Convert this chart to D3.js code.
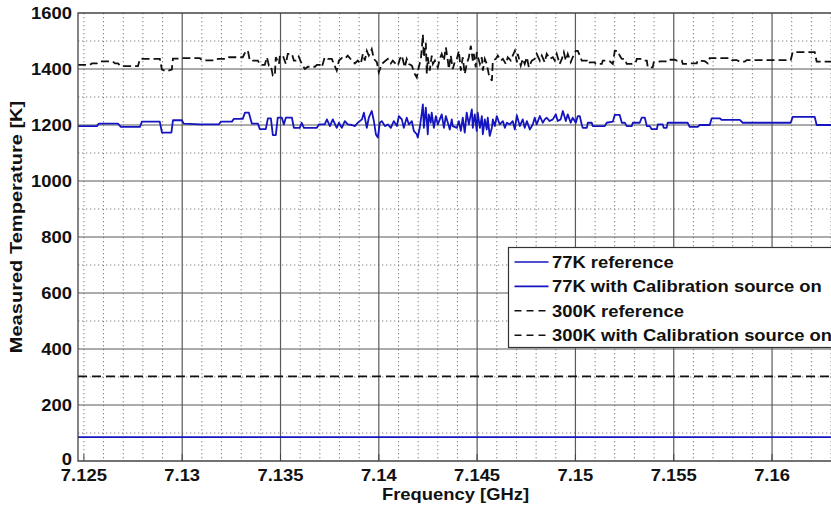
<!DOCTYPE html>
<html>
<head>
<meta charset="utf-8">
<script src="https://cdn.jsdelivr.net/npm/d3@7"></script>
<style>
body { margin: 0; background: #fff; }
text { font-family: "Liberation Sans", Arial, sans-serif; font-weight: bold; fill: #111; }
.wide { transform-box: fill-box; transform: scaleX(1.15); }
</style>
</head>
<body>
<svg id="chart" width="831" height="507"></svg>
<script>
// tick values / labels
const xTickValues = [7.125, 7.13, 7.135, 7.14, 7.145, 7.15, 7.155, 7.16]
const xTickLabels = ["7.125", "7.13", "7.135", "7.14", "7.145", "7.15", "7.155", "7.16"]
const yTickValues = [0, 200, 400, 600, 800, 1000, 1200, 1400, 1600]
const legendLabels = ["77K reference", "77K with Calibration source on", "300K reference", "300K with Calibration source on"]

// reference measurements (flat)
const refFreq = [7.1247, 7.1631]
const ref77 = [85, 85]
const ref300 = [302, 302]

// 77K load with calibration source on [GHz, K]
const cal77 = [
[7.12470,1196],[7.12566,1196],[7.12576,1205],[7.12673,1205],[7.12688,1193],[7.12785,1193],[7.12795,1212],[7.12886,1212],
[7.12897,1173],[7.12945,1173],[7.12953,1217],[7.12998,1217],[7.13008,1205],[7.13090,1202],[7.13186,1202],[7.13197,1212],
[7.13253,1212],[7.13263,1222],[7.13308,1222],[7.13319,1244],[7.13339,1244],[7.13354,1205],[7.13385,1205],[7.13395,1185],
[7.13425,1185],[7.13436,1224],[7.13451,1224],[7.13461,1164],[7.13476,1164],[7.13486,1226],[7.13507,1226],[7.13517,1202],
[7.13527,1226],[7.13558,1226],[7.13568,1190],[7.13598,1190],[7.13608,1208],[7.13619,1190],[7.13685,1190],[7.13695,1202],
[7.13725,1202],[7.13736,1220],[7.13751,1196],[7.13766,1220],[7.13786,1190],[7.13797,1208],[7.13812,1190],[7.13827,1214],
[7.13842,1202],[7.13863,1200],[7.13878,1196],[7.13893,1208],[7.13914,1220],[7.13924,1244],[7.13939,1190],[7.13949,1226],
[7.13964,1250],[7.13975,1214],[7.13985,1167],[7.13995,1155],[7.14005,1208],[7.14015,1214],[7.14031,1196],[7.14046,1202],
[7.14061,1190],[7.14076,1214],[7.14092,1196],[7.14102,1232],[7.14117,1220],[7.14127,1190],[7.14142,1226],[7.14153,1202],
[7.14168,1214],[7.14178,1179],[7.14193,1167],[7.14198,1155],[7.14208,1190],[7.14219,1244],[7.14224,1274],[7.14229,1190],
[7.14239,1262],[7.14249,1167],[7.14254,1238],[7.14264,1208],[7.14269,1244],[7.14280,1190],[7.14290,1232],[7.14300,1202],
[7.14310,1220],[7.14320,1238],[7.14331,1190],[7.14341,1232],[7.14351,1208],[7.14361,1184],[7.14371,1220],[7.14376,1196],
[7.14397,1190],[7.14407,1214],[7.14417,1179],[7.14427,1226],[7.14437,1173],[7.14447,1244],[7.14458,1202],[7.14473,1256],
[7.14478,1190],[7.14488,1238],[7.14498,1179],[7.14503,1244],[7.14514,1190],[7.14524,1232],[7.14529,1167],[7.14539,1220],
[7.14549,1184],[7.14554,1226],[7.14564,1161],[7.14575,1190],[7.14580,1220],[7.14590,1196],[7.14600,1232],[7.14615,1202],
[7.14631,1214],[7.14641,1190],[7.14651,1208],[7.14666,1202],[7.14681,1214],[7.14692,1184],[7.14702,1235],[7.14717,1196],
[7.14732,1220],[7.14742,1190],[7.14753,1214],[7.14768,1184],[7.14783,1202],[7.14793,1226],[7.14803,1202],[7.14819,1232],
[7.14834,1208],[7.14844,1220],[7.14854,1226],[7.14869,1214],[7.14885,1220],[7.14900,1238],[7.14910,1214],[7.14925,1220],
[7.14936,1250],[7.14951,1214],[7.14961,1238],[7.14976,1208],[7.14986,1226],[7.15002,1208],[7.15012,1232],[7.15022,1232],
[7.15032,1202],[7.15037,1190],[7.15058,1190],[7.15063,1208],[7.15083,1208],[7.15088,1196],[7.15149,1196],[7.15159,1208],
[7.15190,1212],[7.15200,1236],[7.15225,1236],[7.15236,1208],[7.15251,1208],[7.15261,1196],[7.15286,1196],[7.15292,1208],
[7.15327,1208],[7.15337,1226],[7.15353,1226],[7.15363,1196],[7.15378,1196],[7.15388,1185],[7.15414,1185],[7.15419,1202],
[7.15444,1202],[7.15449,1190],[7.15464,1190],[7.15469,1208],[7.15571,1208],[7.15581,1193],[7.15622,1193],[7.15632,1200],
[7.15683,1200],[7.15693,1224],[7.15734,1224],[7.15744,1218],[7.15836,1218],[7.15851,1208],[7.16095,1208],[7.16105,1229],
[7.16217,1229],[7.16227,1200],[7.16310,1200]
]

// 300K load with calibration source on [GHz, K]
const cal300 = [
[7.12470,1415],[7.12531,1415],[7.12541,1420],[7.12566,1420],[7.12581,1427],[7.12647,1427],[7.12658,1420],[7.12673,1420],
[7.12688,1410],[7.12775,1410],[7.12785,1436],[7.12886,1436],[7.12897,1398],[7.12917,1392],[7.12947,1398],[7.12953,1437],
[7.12978,1437],[7.12988,1439],[7.13090,1439],[7.13100,1431],[7.13171,1431],[7.13181,1436],[7.13227,1436],[7.13237,1442],
[7.13308,1442],[7.13324,1465],[7.13334,1465],[7.13344,1430],[7.13385,1430],[7.13395,1415],[7.13420,1415],[7.13431,1442],
[7.13441,1412],[7.13451,1412],[7.13461,1376],[7.13471,1376],[7.13476,1442],[7.13492,1418],[7.13497,1448],[7.13512,1448],
[7.13527,1418],[7.13537,1454],[7.13558,1454],[7.13568,1430],[7.13583,1430],[7.13593,1444],[7.13608,1418],[7.13624,1400],
[7.13639,1408],[7.13675,1408],[7.13685,1415],[7.13700,1415],[7.13710,1406],[7.13725,1442],[7.13741,1436],[7.13761,1436],
[7.13771,1418],[7.13786,1394],[7.13797,1430],[7.13812,1439],[7.13827,1436],[7.13842,1448],[7.13863,1430],[7.13878,1420],
[7.13893,1430],[7.13908,1418],[7.13919,1454],[7.13929,1430],[7.13939,1465],[7.13949,1448],[7.13964,1471],[7.13975,1436],
[7.13990,1424],[7.14000,1388],[7.14015,1418],[7.14025,1424],[7.14046,1436],[7.14061,1420],[7.14071,1430],[7.14086,1418],
[7.14097,1412],[7.14107,1436],[7.14117,1448],[7.14132,1406],[7.14142,1436],[7.14153,1418],[7.14168,1412],[7.14183,1382],
[7.14193,1370],[7.14203,1406],[7.14214,1436],[7.14219,1477],[7.14224,1523],[7.14229,1442],[7.14239,1494],[7.14244,1382],
[7.14249,1442],[7.14259,1394],[7.14269,1448],[7.14275,1418],[7.14285,1430],[7.14300,1406],[7.14310,1436],[7.14320,1454],
[7.14331,1430],[7.14341,1477],[7.14351,1430],[7.14356,1400],[7.14366,1448],[7.14376,1400],[7.14386,1424],[7.14397,1436],
[7.14407,1465],[7.14417,1394],[7.14427,1442],[7.14437,1382],[7.14447,1418],[7.14458,1442],[7.14468,1483],[7.14478,1430],
[7.14483,1454],[7.14493,1406],[7.14498,1460],[7.14514,1418],[7.14524,1442],[7.14529,1394],[7.14539,1436],[7.14549,1418],
[7.14559,1382],[7.14575,1358],[7.14580,1430],[7.14595,1436],[7.14605,1448],[7.14620,1430],[7.14631,1436],[7.14646,1418],
[7.14656,1442],[7.14671,1430],[7.14681,1448],[7.14692,1465],[7.14702,1424],[7.14707,1454],[7.14722,1412],[7.14732,1436],
[7.14742,1418],[7.14753,1442],[7.14763,1406],[7.14778,1430],[7.14793,1436],[7.14803,1454],[7.14819,1430],[7.14829,1448],
[7.14844,1424],[7.14854,1454],[7.14869,1436],[7.14885,1442],[7.14895,1430],[7.14905,1454],[7.14920,1418],[7.14931,1436],
[7.14941,1460],[7.14951,1430],[7.14961,1454],[7.14976,1424],[7.14986,1442],[7.15002,1465],[7.15012,1465],[7.15022,1448],
[7.15032,1430],[7.15058,1430],[7.15068,1418],[7.15073,1424],[7.15098,1424],[7.15103,1418],[7.15134,1418],[7.15139,1430],
[7.15159,1430],[7.15175,1427],[7.15190,1418],[7.15200,1465],[7.15215,1465],[7.15225,1448],[7.15236,1436],[7.15251,1436],
[7.15261,1418],[7.15286,1418],[7.15297,1424],[7.15307,1424],[7.15312,1436],[7.15337,1436],[7.15347,1430],[7.15363,1430],
[7.15368,1406],[7.15393,1406],[7.15398,1424],[7.15419,1424],[7.15429,1427],[7.15464,1427],[7.15469,1433],[7.15505,1433],
[7.15515,1430],[7.15541,1430],[7.15546,1418],[7.15571,1418],[7.15581,1420],[7.15617,1420],[7.15622,1430],[7.15658,1428],
[7.15673,1420],[7.15683,1439],[7.15785,1439],[7.15795,1432],[7.15820,1432],[7.15836,1426],[7.15861,1426],[7.15871,1432],
[7.16095,1432],[7.16105,1460],[7.16217,1460],[7.16227,1426],[7.16310,1426]
]

const blue = '#1414c0'
const plot = {left: 78, top: 13, right: 833, bottom: 461}

const svg = d3.select('#chart')
svg.append('rect').attr('width', 831).attr('height', 507).attr('fill', '#fff')

const x = d3.scaleLinear([refFreq[0], refFreq[1]], [plot.left, plot.right])
const y = d3.scaleLinear([0, 1600], [plot.bottom, plot.top])

svg.append('defs').append('clipPath').attr('id', 'clip')
	.append('rect')
	.attr('x', plot.left).attr('y', plot.top)
	.attr('width', plot.right - plot.left).attr('height', plot.bottom - plot.top)

// minor grid (1 MHz, 100 K), dotted
let xMinor = d3.range(0, 39).map(i => 7.125 + i * 0.001).filter((d, i) => i % 5 != 0 || i == 0)
let yMinor = d3.range(100, 1600, 200)
let grid = svg.append('g').attr('clip-path', 'url(#clip)')
grid.selectAll('.xminor').data(xMinor).enter().append('line')
	.attr('x1', d => x(d)).attr('x2', d => x(d))
	.attr('y1', plot.top).attr('y2', plot.bottom)
	.attr('stroke', '#808080').attr('stroke-width', 1).attr('stroke-dasharray', '1.3,2.7')
grid.selectAll('.yminor').data(yMinor).enter().append('line')
	.attr('x1', plot.left).attr('x2', plot.right)
	.attr('y1', d => y(d)).attr('y2', d => y(d))
	.attr('stroke', '#808080').attr('stroke-width', 1).attr('stroke-dasharray', '1.3,2.7')

// major grid, solid
grid.selectAll('.xmajor').data(xTickValues.slice(1)).enter().append('line')
	.attr('x1', d => x(d)).attr('x2', d => x(d))
	.attr('y1', plot.top).attr('y2', plot.bottom)
	.attr('stroke', '#5a5a5a').attr('stroke-width', 1.2)
grid.selectAll('.ymajor').data(yTickValues.slice(1, -1)).enter().append('line')
	.attr('x1', plot.left).attr('x2', plot.right)
	.attr('y1', d => y(d)).attr('y2', d => y(d))
	.attr('stroke', '#5a5a5a').attr('stroke-width', 1.2)

// ticks inside the box
grid.selectAll('.xtick').data(xTickValues).enter().append('line')
	.attr('x1', d => x(d)).attr('x2', d => x(d))
	.attr('y1', plot.bottom).attr('y2', plot.bottom - 7)
	.attr('stroke', '#444')

// series
let line = d3.line().x(d => x(d[0])).y(d => y(d[1]))
let lines = svg.append('g').attr('clip-path', 'url(#clip)').attr('fill', 'none')

lines.append('path').datum(refFreq.map((f, i) => [f, ref77[i]]))
	.attr('d', line).attr('stroke', blue).attr('stroke-width', 1.8)
lines.append('path').datum(cal77)
	.attr('d', line).attr('stroke', blue).attr('stroke-width', 1.8).attr('stroke-linejoin', 'round')
lines.append('path').datum(refFreq.map((f, i) => [f, ref300[i]]))
	.attr('d', line).attr('stroke', '#111').attr('stroke-width', 1.7).attr('stroke-dasharray', '9,5')
lines.append('path').datum(cal300)
	.attr('d', line).attr('stroke', '#111').attr('stroke-width', 1.8).attr('stroke-dasharray', '8,4')

// axes box (right side runs off the picture)
svg.append('path')
	.attr('d', `M${plot.right},${plot.top}H${plot.left}V${plot.bottom}H${plot.right}`)
	.attr('fill', 'none').attr('stroke', '#444').attr('stroke-width', 1.3)

// tick labels
svg.append('g').selectAll('text').data(xTickValues).enter().append('text')
	.attr('class', 'wide')
	.style('transform-origin', 'center')
	.attr('x', d => x(d)).attr('y', 481)
	.attr('text-anchor', 'middle').attr('font-size', 16)
	.text((d, i) => xTickLabels[i])

svg.append('g').selectAll('text').data(yTickValues).enter().append('text')
	.attr('class', 'wide')
	.style('transform-origin', 'right center')
	.attr('x', 72).attr('y', d => y(d) - (d == 0 ? 2 : 0)).attr('dy', '0.36em')
	.attr('text-anchor', 'end').attr('font-size', 16)
	.text(d => d)

// axis titles
svg.append('text')
	.attr('class', 'wide')
	.style('transform-origin', 'center')
	.attr('x', (plot.left + plot.right) / 2).attr('y', 500)
	.attr('text-anchor', 'middle').attr('font-size', 16)
	.text('Frequency [GHz]')

svg.append('text')
	.attr('transform', 'translate(22,227) rotate(-90) scale(1.18,1)')
	.attr('text-anchor', 'middle').attr('font-size', 17)
	.text('Measured Temperature [K]')

// legend
let legend = svg.append('g').attr('transform', 'translate(508.5,247.5)')
legend.append('rect')
	.attr('width', 400).attr('height', 100)
	.attr('fill', '#fff').attr('stroke', '#333').attr('stroke-width', 1.2)
let styles = [
	{color: blue, dash: null},
	{color: blue, dash: null},
	{color: '#111', dash: '7,5'},
	{color: '#111', dash: '7,5'}
]
let rows = legend.selectAll('.row').data(legendLabels).enter().append('g')
	.attr('transform', (d, i) => `translate(0,${14.5 + i * 24.4})`)
rows.append('line')
	.attr('x1', 6).attr('x2', 40)
	.attr('stroke', (d, i) => styles[i].color)
	.attr('stroke-width', 1.6)
	.attr('stroke-dasharray', (d, i) => styles[i].dash)
rows.append('text')
	.attr('class', 'wide')
	.style('transform-origin', 'left center')
	.attr('x', 43.5).attr('dy', '0.36em')
	.attr('font-size', 16)
	.text(d => d)
</script>
</body>
</html>
